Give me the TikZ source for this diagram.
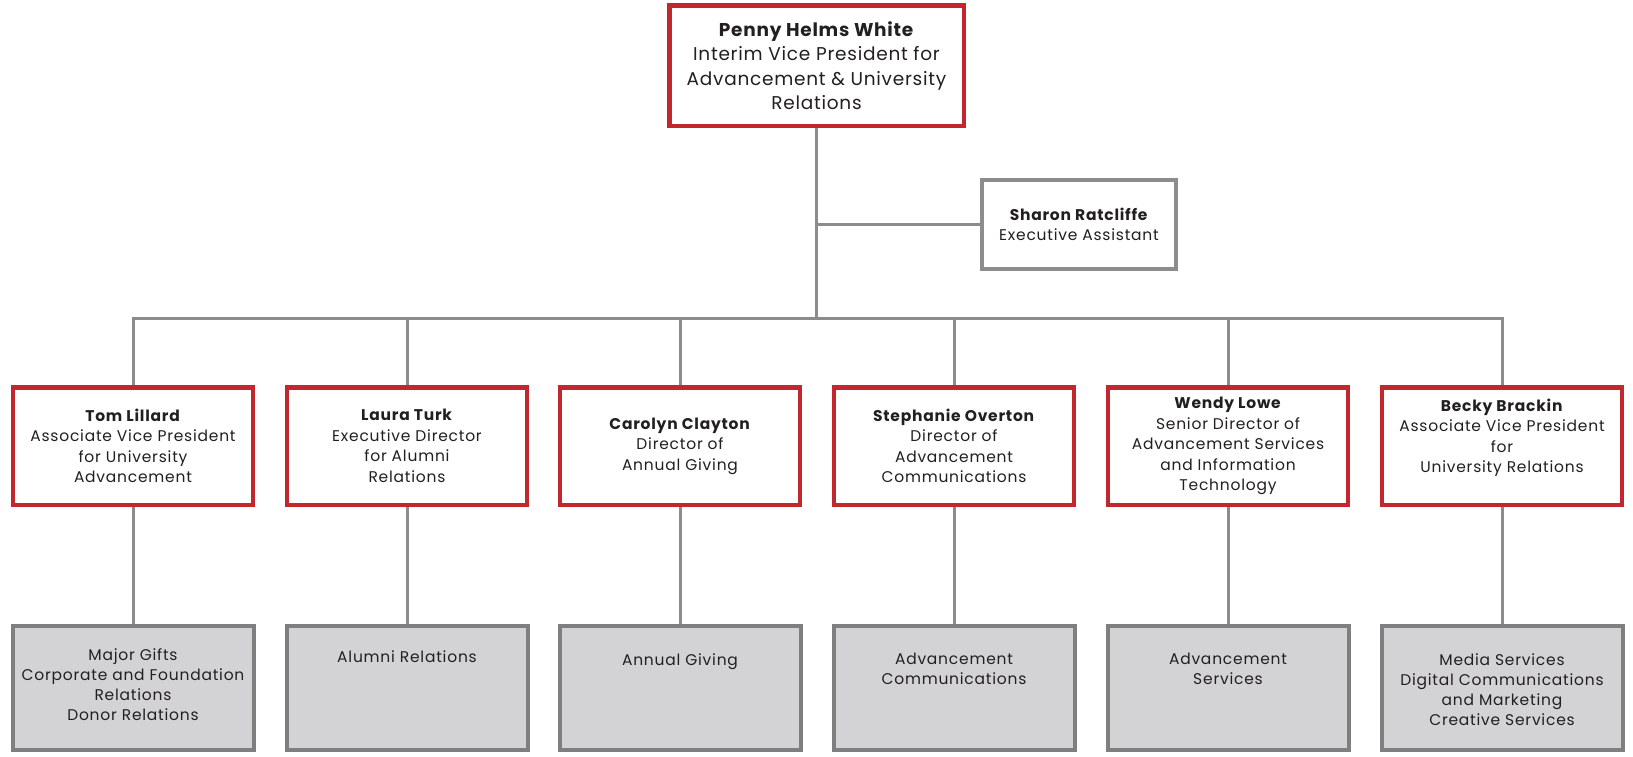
\documentclass[tikz,border=0pt]{standalone}
\usepackage{fontspec}
\setmainfont{Poppins}[LetterSpace=5]
\newfontfamily\topfont{Poppins}[LetterSpace=4]
\usetikzlibrary{calc}
\definecolor{vred}{HTML}{C4262E}
\definecolor{linegray}{HTML}{8C8C8C}
\definecolor{boxgray}{HTML}{7F7F7F}
\definecolor{boxfill}{HTML}{D3D3D5}
\definecolor{txt}{HTML}{231F20}
\tikzset{
  redbox/.style={draw=vred, line width=4.5pt, fill=white, minimum width=240pt, minimum height=117.5pt, align=center, inner sep=0pt, text=txt, font=\fontsize{15.5}{20.5}\selectfont},
  topbox/.style={redbox, minimum width=294.5pt, minimum height=120.5pt, font=\topfont\fontsize{18.5}{24.5}\selectfont},
  asstbox/.style={draw=boxgray!90, line width=4pt, fill=white, minimum width=194pt, minimum height=89pt, align=center, inner sep=0pt, text=txt, font=\fontsize{15.5}{20.5}\selectfont},
  graybox/.style={draw=boxgray, line width=4pt, fill=boxfill, minimum width=241pt, minimum height=124pt, inner sep=0pt},
  unitlbl/.style={align=center, anchor=north, inner sep=0pt, text=txt, font=\fontsize{15.5}{20}\selectfont},
  conn/.style={draw=linegray, line width=3pt}
}
\begin{document}
\begin{tikzpicture}[x=1pt,y=-1pt]
\useasboundingbox[fill=white] (0,0) rectangle (1633,756);
% top
\node[topbox] (vp) at (816.5,65.5) {\textbf{Penny Helms White}\\Interim Vice President for\\Advancement \& University\\Relations};
\node[asstbox] (ea) at (1079,224.5) {\textbf{Sharon Ratcliffe}\\Executive Assistant};
% row 2
\node[redbox] (d1) at (133,446) {\textbf{Tom Lillard}\\Associate Vice President\\for University\\Advancement};
\node[redbox] (d2) at (407,446) {\textbf{Laura Turk}\\Executive Director\\for Alumni\\Relations};
\node[redbox] (d3) at (680,446) {\textbf{Carolyn Clayton}\\Director of\\Annual Giving};
\node[redbox] (d4) at (954,446) {\textbf{Stephanie Overton}\\Director of\\Advancement\\Communications};
\node[redbox] (d5) at (1228,446) {\textbf{Wendy Lowe}\\Senior Director of\\Advancement Services\\and Information\\Technology};
\node[redbox] (d6) at (1502,446) {\textbf{Becky Brackin}\\Associate Vice President\\for\\University Relations\\~};
% row 3
\node[graybox] (u1) at (133,688) {};
\node[graybox] (u2) at (407,688) {};
\node[graybox] (u3) at (680,688) {};
\node[graybox] (u4) at (954,688) {};
\node[graybox] (u5) at (1228,688) {};
\node[graybox] (u6) at (1502,688) {};
\node[unitlbl] (l1) at ($(u1.north)+(0,24)$) {Major Gifts\\Corporate and Foundation\\Relations\\Donor Relations};
\node[unitlbl] (l2) at ($(u2.north)+(0,26)$) {Alumni Relations};
\node[unitlbl] (l3) at ($(u3.north)+(0,29)$) {Annual Giving};
\node[unitlbl] (l4) at ($(u4.north)+(0,29)$) {Advancement\\Communications};
\node[unitlbl] (l5) at ($(u5.north)+(0,29)$) {Advancement\\Services};
\node[unitlbl] (l6) at ($(u6.north)+(0,29)$) {Media Services\\Digital Communications\\and Marketing\\Creative Services};
% connectors
\coordinate (bus) at (816.5,318);
\draw[conn] (vp.south) -- (bus);
\draw[conn] (ea.west) -- (ea.west -| vp.south);
\foreach \i in {1,...,6}{
  \draw[conn] (bus) -| (d\i.north);
  \draw[conn] (d\i.south) -- (u\i.north);
}
\end{tikzpicture}
\end{document}
